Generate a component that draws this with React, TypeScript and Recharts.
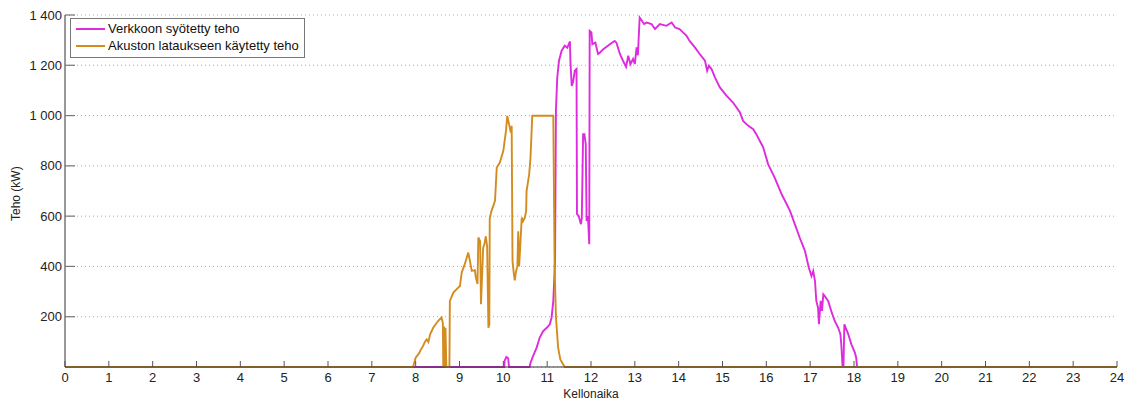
import React from 'react';
import { LineChart, Line, XAxis, YAxis, CartesianGrid, Legend } from 'recharts';

const FONT = '"Liberation Sans", Arial, sans-serif';

const xTicks = [0, 1, 2, 3, 4, 5, 6, 7, 8, 9, 10, 11, 12, 13, 14, 15, 16, 17, 18, 19, 20, 21, 22, 23, 24];
const yTicks = [200, 400, 600, 800, 1000, 1200, 1400];

const seriesNames = ['Verkkoon syötetty teho', 'Akuston lataukseen käytetty teho'];
const seriesColors = ['#DE2BDE', '#D38C20'];

// Verkkoon syötetty teho (kW)
const gridTime = [
  0, 10.02, 10.03, 10.07, 10.11, 10.13, 10.6, 10.62, 10.68, 10.76, 10.83, 10.91, 10.99, 11.06, 11.1, 11.14,
  11.18, 11.2, 11.23, 11.27, 11.33, 11.4, 11.46, 11.52, 11.53, 11.56, 11.59, 11.63, 11.67, 11.68, 11.72,
  11.77, 11.79, 11.82, 11.85, 11.88, 11.9, 11.93, 11.96, 11.97, 12.01, 12.03, 12.1, 12.16, 12.2, 12.28,
  12.43, 12.54, 12.58, 12.66, 12.73, 12.8, 12.85, 12.9, 12.96, 13.0, 13.04, 13.07, 13.11, 13.15, 13.21,
  13.27, 13.38, 13.46, 13.57, 13.72, 13.84, 13.92, 14.02, 14.1, 14.18, 14.25, 14.37, 14.48, 14.6, 14.65,
  14.69, 14.75, 14.83, 14.94, 15.09, 15.24, 15.4, 15.47, 15.59, 15.7, 15.77, 15.93, 16.04, 16.19, 16.35,
  16.54, 16.65, 16.76, 16.88, 16.97, 17.03, 17.07, 17.11, 17.14, 17.18, 17.2, 17.24, 17.27, 17.3, 17.33,
  17.41, 17.48, 17.56, 17.64, 17.69, 17.71, 17.74, 17.76, 17.78, 17.87, 17.94, 18.02, 18.05, 18.07, 24,
];
const gridPower = [
  0, 0, 25, 40, 35, 0, 0, 17, 44, 77, 117, 143, 156, 170, 196, 263,
  422, 1019, 1151, 1218, 1258, 1278, 1270, 1295, 1218, 1118, 1132, 1178, 1185, 608, 601,
  568, 590, 926, 926, 886, 581, 600, 488, 1337, 1331, 1284, 1290, 1245, 1250, 1264,
  1284, 1297, 1290, 1245, 1218, 1194, 1238, 1205, 1225, 1205, 1271, 1240, 1390, 1380, 1364,
  1370, 1364, 1344, 1364, 1357, 1370, 1350, 1344, 1331, 1317, 1297, 1271, 1245, 1218, 1178,
  1198, 1185, 1151, 1112, 1079, 1052, 1012, 979, 959, 946, 926, 873, 807, 753, 687,
  621, 568, 515, 462, 395, 362, 382, 342, 263, 236, 170, 263, 223, 289, 283,
  263, 223, 183, 156, 130, 90, 0, 0, 170, 130, 90, 57, 37, 0, 0,
];

// Akuston lataukseen käytetty teho (kW)
const battTime = [
  0, 7.94, 8.0, 8.08, 8.12, 8.17, 8.21, 8.25, 8.29, 8.33, 8.4, 8.48, 8.55, 8.59, 8.62, 8.63, 8.65, 8.66,
  8.67, 8.68, 8.7, 8.77, 8.78, 8.86, 8.93, 9.01, 9.05, 9.12, 9.2, 9.24, 9.28, 9.35, 9.37, 9.41, 9.43,
  9.47, 9.49, 9.54, 9.57, 9.6, 9.63, 9.66, 9.68, 9.69, 9.73, 9.81, 9.85, 9.92, 10.0, 10.06, 10.09, 10.13,
  10.17, 10.19, 10.21, 10.24, 10.26, 10.29, 10.32, 10.34, 10.36, 10.38, 10.42, 10.45, 10.49, 10.52, 10.53,
  10.59, 10.62, 10.66, 11.14, 11.17, 11.2, 11.25, 11.3, 11.4, 24,
];
const battPower = [
  0, 0, 37, 55, 70, 84, 100, 110, 100, 130, 156, 176, 190, 197, 175, 0, 160, 150,
  0, 155, 0, 0, 263, 296, 309, 322, 375, 409, 455, 420, 382, 385, 360, 330, 515,
  500, 250, 475, 490, 520, 480, 156, 170, 590, 621, 661, 793, 813, 860, 939, 999, 966,
  932, 959, 420, 370, 345, 380, 400, 540, 400, 460, 594, 580, 594, 620, 700,
  767, 833, 999, 999, 400, 200, 77, 30, 0, 0,
];

const gridData = gridTime.map((t, i) => ({ t, v: gridPower[i] }));
const battData = battTime.map((t, i) => ({ t, v: battPower[i] }));

const fmt = (v: number) =>
  v >= 1000 ? `${Math.floor(v / 1000)} ${String(v % 1000).padStart(3, '0')}` : String(v);

const XTick = (props: any) => {
  const { x, y, payload } = props;
  return (
    <g>
      <line x1={x} y1={y} x2={x} y2={y - 6} stroke="#555" strokeWidth={1} />
      <text x={x} y={y + 15} textAnchor="middle" fontSize={13} fontFamily={FONT} fill="#222">
        {payload.value}
      </text>
    </g>
  );
};

const YTick = (props: any) => {
  const { x, y, payload } = props;
  return (
    <g>
      <line x1={x} y1={y} x2={x + 10} y2={y} stroke="#777" strokeWidth={1.2} />
      <text x={x - 3} y={y + 4.5} textAnchor="end" fontSize={13} fontFamily={FONT} fill="#222">
        {fmt(payload.value)}
      </text>
    </g>
  );
};

const LegendBox = () => (
  <div
    style={{
      border: '1px solid #777',
      background: '#fff',
      width: 233,
      height: 37,
      boxSizing: 'content-box',
      fontFamily: FONT,
      fontSize: 13,
      color: '#111',
      paddingTop: 1,
    }}
  >
    {seriesNames.map((n, i) => (
      <div key={n} style={{ display: 'flex', alignItems: 'center', height: 17, lineHeight: '17px' }}>
        <div style={{ width: 29, height: 2, background: seriesColors[i], marginLeft: 5, marginRight: 3 }} />
        <span>{n}</span>
      </div>
    ))}
  </div>
);

export default function App() {
  return (
    <div style={{ position: 'absolute', left: 0, top: 0, width: 1130, height: 400, background: '#fff' }}>
      <LineChart width={1130} height={400} margin={{ top: 15, right: 13, left: 0, bottom: 0 }}>
        <CartesianGrid vertical={false} stroke="#aaaaaa" strokeDasharray="1 3" />
        <XAxis
          dataKey="t"
          type="number"
          domain={[0, 24]}
          ticks={xTicks}
          interval={0}
          allowDuplicatedCategory={false}
          height={33}
          tickSize={0}
          tickMargin={0}
          tickLine={false}
          tick={<XTick />}
          stroke="#333"
          label={{ value: 'Kellonaika', position: 'insideBottom', offset: 2, fontSize: 12, fontFamily: FONT, fill: '#222' }}
        />
        <YAxis
          type="number"
          domain={[0, 1400]}
          ticks={yTicks}
          interval={0}
          width={65}
          tickSize={0}
          tickMargin={0}
          tickLine={false}
          tick={<YTick />}
          stroke="#333"
          label={{ value: 'Teho (kW)', angle: -90, position: 'insideLeft', offset: 16, dy: 30, fontSize: 12, fontFamily: FONT, fill: '#222' }}
        />
        <Legend
          layout="vertical"
          align="center"
          verticalAlign="middle"
          content={<LegendBox />}
          wrapperStyle={{ top: 18, left: 70, width: 'auto' }}
        />
        <Line
          data={gridData}
          dataKey="v"
          name={seriesNames[0]}
          stroke={seriesColors[0]}
          strokeWidth={1.9}
          dot={false}
          type="linear"
          isAnimationActive={false}
        />
        <Line
          data={battData}
          dataKey="v"
          name={seriesNames[1]}
          stroke={seriesColors[1]}
          strokeWidth={1.9}
          dot={false}
          type="linear"
          isAnimationActive={false}
        />
      </LineChart>
    </div>
  );
}
